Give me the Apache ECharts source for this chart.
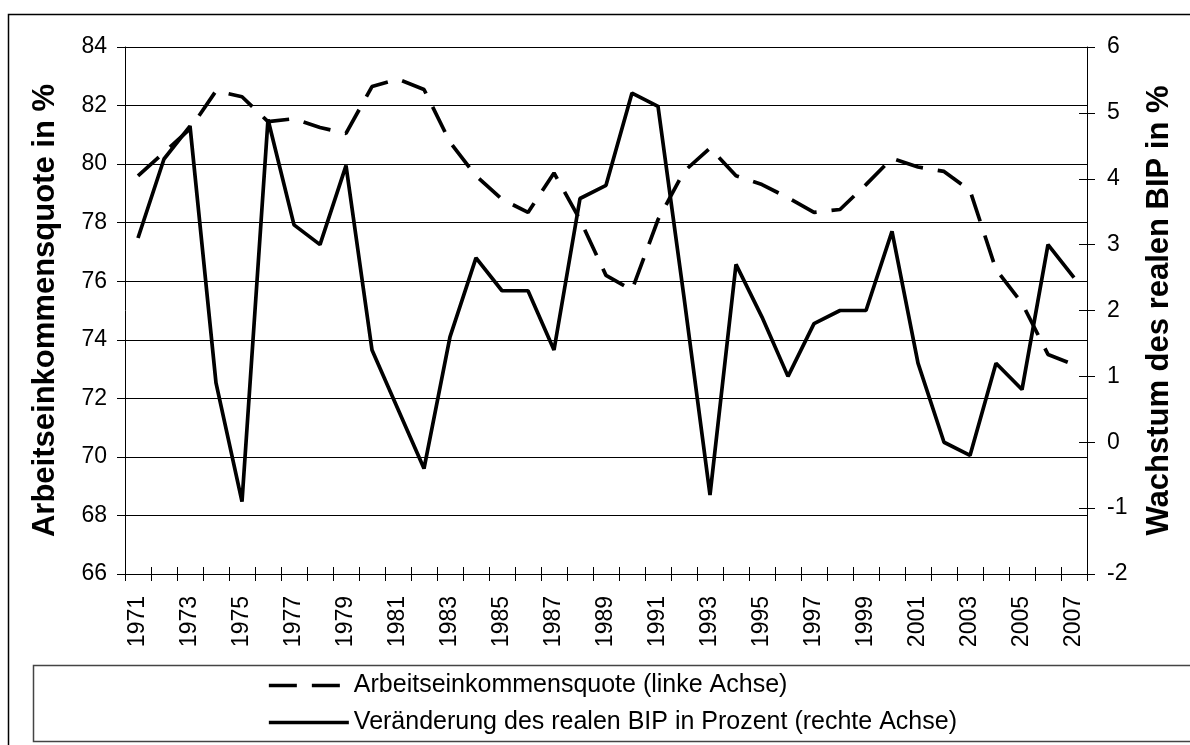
<!DOCTYPE html>
<html>
<head>
<meta charset="utf-8">
<script src="https://cdn.jsdelivr.net/npm/echarts@6/dist/echarts.min.js"></script>
<style>
html,body{margin:0;padding:0;background:#fff;}
#chart{width:1190px;height:745px;}
</style>
</head>
<body>
<div id="chart"></div>
<script>
const years = ['1971','1972','1973','1974','1975','1976','1977','1978','1979','1980',
  '1981','1982','1983','1984','1985','1986','1987','1988','1989','1990',
  '1991','1992','1993','1994','1995','1996','1997','1998','1999','2000',
  '2001','2002','2003','2004','2005','2006','2007'];
const quoteName = 'Arbeitseinkommensquote (linke Achse)';
const growthName = 'Veränderung des realen BIP in Prozent (rechte Achse)';
const quote = [79.6,80.4,81.2,82.5,82.3,81.45,81.55,81.25,81.05,82.65,
  82.9,82.55,80.75,79.6,78.8,78.35,79.7,78.1,76.2,75.7,
  78.1,79.75,80.55,79.6,79.3,78.85,78.35,78.45,79.3,80.2,
  79.9,79.75,79.1,76.4,75.25,73.5,73.15];
const growth = [3.1,4.3,4.8,0.9,-0.9,4.9,3.3,3.0,4.2,1.4,
  0.5,-0.4,1.6,2.8,2.3,2.3,1.4,3.7,3.9,5.3,
  5.1,2.2,-0.8,2.7,1.9,1.0,1.8,2.0,2.0,3.2,
  1.2,0.0,-0.2,1.2,0.8,3.0,2.5];
const leftRange = [66, 84, 2];
const rightRange = [-2, 6, 1];
const leftTitle = 'Arbeitseinkommensquote in %';
const rightTitle = 'Wachstum des realen BIP in %';

const FONT = 'Liberation Sans, Arial, sans-serif';
const chart = echarts.init(document.getElementById('chart'), null, {renderer:'canvas'});
const option = {
  backgroundColor: '#fff',
  animation: false,
  grid: {left: 125, right: 103, top: 47, bottom: 171, containLabel: false},
  graphic: [
    {type:'rect', shape:{x:8.5, y:14.5, width:1200, height:800}, style:{fill:'none', stroke:'#000', lineWidth:1.5}, silent:true, z:-1},
    {type:'rect', shape:{x:33.5, y:665.5, width:1170, height:76}, style:{fill:'none', stroke:'#444', lineWidth:1.5}, silent:true, z:-1}
  ],
  legend: {
    left: 262, top: 668, orient: 'vertical',
    itemWidth: 80, itemHeight: 14, itemGap: 12,
    itemStyle: {color: 'rgba(0,0,0,0)', borderWidth: 0, opacity: 0},
    lineStyle: {width: 3.7},
    textStyle: {fontFamily: FONT, fontSize: 25, color: '#000', lineHeight: 25},
    data: [quoteName, growthName]
  },
  xAxis: [
    {type:'category', data: years, boundaryGap: true,
      axisLine:{show:true, onZero:false, lineStyle:{color:'#000', width:1}},
      axisTick:{show:true, interval:0, length:7, lineStyle:{color:'#000'}},
      axisLabel:{interval:1, rotate:90, fontFamily:FONT, fontSize:23, color:'#000', margin:22},
      splitLine:{show:false}},
    {type:'category', data: years, position:'bottom', boundaryGap: true,
      axisLine:{show:false, onZero:false},
      axisTick:{show:true, inside:true, interval:0, length:7, lineStyle:{color:'#000'}},
      axisLabel:{show:false}, splitLine:{show:false}}
  ],
  yAxis: [
    {type:'value', min:leftRange[0], max:leftRange[1], interval:leftRange[2], position:'left',
      name: leftTitle, nameLocation:'middle', nameRotate:90, nameGap:64,
      nameTextStyle:{fontFamily:FONT, fontSize:31, fontWeight:'bold', color:'#000'},
      axisLine:{show:true, onZero:false, lineStyle:{color:'#000', width:1}},
      axisTick:{show:true, length:8, lineStyle:{color:'#000'}},
      axisLabel:{fontFamily:FONT, fontSize:23, color:'#000', margin:18},
      splitLine:{show:true, lineStyle:{color:'#000', width:1}}},
    {type:'value', min:rightRange[0], max:rightRange[1], interval:rightRange[2], position:'right',
      name: rightTitle, nameLocation:'middle', nameRotate:90, nameGap:57,
      nameTextStyle:{fontFamily:FONT, fontSize:31, fontWeight:'bold', color:'#000'},
      axisLine:{show:true, onZero:false, lineStyle:{color:'#000', width:1}},
      axisTick:{show:true, inside:true, length:8, lineStyle:{color:'#000'}},
      axisLabel:{fontFamily:FONT, fontSize:23, color:'#000', margin:20},
      splitLine:{show:false}},
    {type:'value', min:rightRange[0], max:rightRange[1], interval:rightRange[2], position:'right',
      axisLine:{show:false, onZero:false},
      axisTick:{show:true, length:8, lineStyle:{color:'#000'}},
      axisLabel:{show:false}, splitLine:{show:false}}
  ],
  series: [
    {name: quoteName, type:'line', data: quote, xAxisIndex:0, yAxisIndex:0,
      symbol:'none', smooth:false,
      lineStyle:{color:'#000', width:3.7, type:[28,15], cap:'butt'},
      itemStyle:{color:'#000'}, z:2},
    {name: growthName, type:'line', data: growth, xAxisIndex:0, yAxisIndex:1,
      symbol:'none', smooth:false,
      lineStyle:{color:'#000', width:3.7, type:'solid'},
      itemStyle:{color:'#000'}, z:3}
  ]
};
chart.setOption(option);
</script>
</body>
</html>
